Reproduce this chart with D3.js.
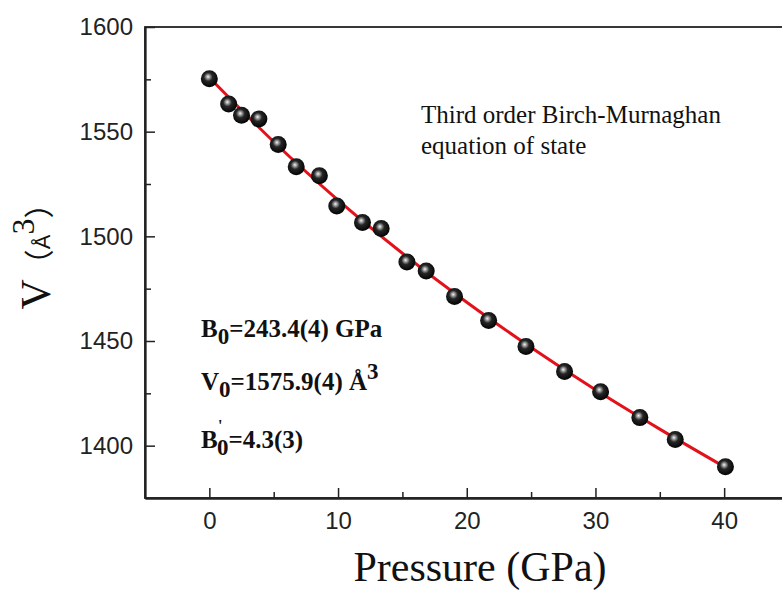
<!DOCTYPE html>
<html>
<head>
<meta charset="utf-8">
<script src="https://cdn.jsdelivr.net/npm/d3@7"></script>
<style>
  body { margin: 0; background: #fff; }
  svg { display: block; }
</style>
</head>
<body>
<svg id="eos" width="782" height="597"></svg>
<script>
const pressure = [0.0, 1.5, 2.5, 3.85, 5.35, 6.75, 8.55, 9.9, 11.9, 13.35,
                  15.35, 16.85, 19.05, 21.7, 24.6, 27.6, 30.4, 33.45, 36.2, 40.1];
const volume = [1575.3, 1563.2, 1557.8, 1556.1, 1543.9, 1533.2, 1528.9, 1514.5, 1506.6, 1503.7,
                1487.7, 1483.4, 1471.3, 1459.8, 1447.4, 1435.4, 1425.8, 1413.4, 1402.9, 1389.9];

// red fit line, read at a few pressures
const fitPressure = [0, 5, 10, 15, 20, 25, 30, 35, 40.1];
const fitVolume = [1575.9, 1545.2, 1517.3, 1491.9, 1468.5, 1446.9, 1426.7, 1407.9, 1389.6];

const xTicks = [0, 10, 20, 30, 40];
const xMinor = [5, 15, 25, 35, 45];
const yTicks = [1400, 1450, 1500, 1550, 1600];
const yMinor = [1425, 1475, 1525, 1575];

const svg = d3.select("#eos");

const x = d3.scaleLinear().domain([-5, 45]).range([145, 788.5]);
const y = d3.scaleLinear().domain([1375, 1600]).range([498, 27]);

// sphere look for the markers
const grad = svg.append("defs").append("radialGradient")
    .attr("id", "ball")
    .attr("cx", "45%").attr("cy", "42%").attr("r", "60%")
    .attr("fx", "42%").attr("fy", "38%");
grad.append("stop").attr("offset", "0%").attr("stop-color", "#f4f4f4");
grad.append("stop").attr("offset", "18%").attr("stop-color", "#9a9a9a");
grad.append("stop").attr("offset", "42%").attr("stop-color", "#262626");
grad.append("stop").attr("offset", "100%").attr("stop-color", "#000");

// frame (right side falls outside the picture, as in the crop)
svg.append("rect")
    .attr("x", x(-5)).attr("y", y(1600))
    .attr("width", x(45) - x(-5)).attr("height", y(1375) - y(1600))
    .attr("fill", "none").attr("stroke", "#222").attr("stroke-width", 1.8);

// x axis
svg.append("g")
    .attr("transform", `translate(0,${y(1375)})`)
    .call(d3.axisBottom(x).tickValues(xTicks).tickSizeInner(-10).tickSizeOuter(0).tickPadding(14));
svg.append("g")
    .attr("transform", `translate(0,${y(1375)})`)
    .call(d3.axisBottom(x).tickValues(xMinor).tickSizeInner(-6).tickSizeOuter(0).tickFormat(""));

// y axis
svg.append("g")
    .attr("transform", `translate(${x(-5)},0)`)
    .call(d3.axisLeft(y).tickValues(yTicks).tickFormat(d3.format("d"))
        .tickSizeInner(-10).tickSizeOuter(0).tickPadding(12));
svg.append("g")
    .attr("transform", `translate(${x(-5)},0)`)
    .call(d3.axisLeft(y).tickValues(yMinor).tickSizeInner(-6).tickSizeOuter(0).tickFormat(""));

svg.selectAll(".domain").attr("stroke", "#222").attr("stroke-width", 1.8);
svg.selectAll(".tick line").attr("stroke", "#222").attr("stroke-width", 1.5);
svg.selectAll(".tick text")
    .attr("font-family", "Liberation Sans, Arial, sans-serif")
    .attr("font-size", "24px")
    .attr("fill", "#222");

// fit curve
const line = d3.line()
    .x((d, i) => x(fitPressure[i]))
    .y(d => y(d))
    .curve(d3.curveMonotoneX);

svg.append("path")
    .datum(fitVolume)
    .attr("d", line)
    .attr("fill", "none")
    .attr("stroke", "#e3111a")
    .attr("stroke-width", 3);

// data points
svg.selectAll("circle.pt")
    .data(volume)
    .enter()
    .append("circle")
    .attr("class", "pt")
    .attr("cx", (d, i) => x(pressure[i]))
    .attr("cy", d => y(d))
    .attr("r", 8.5)
    .attr("fill", "url(#ball)");

// axis titles
const serif = "Liberation Serif, Times New Roman, serif";

svg.append("text")
    .attr("x", 480)
    .attr("y", 581)
    .attr("text-anchor", "middle")
    .attr("font-family", serif)
    .attr("font-size", "42px")
    .attr("fill", "#111")
    .text("Pressure (GPa)");

const yt = svg.append("text")
    .attr("transform", "translate(50,249) rotate(-90)")
    .attr("text-anchor", "middle")
    .attr("font-family", serif)
    .attr("fill", "#111");
yt.append("tspan").attr("font-size", "42px").text("V");
yt.append("tspan").attr("font-size", "30px").attr("font-family", "Noto Sans CJK SC").text("（");
yt.append("tspan").attr("font-size", "22px").attr("font-family", "Liberation Sans, Arial, sans-serif").text("Å");
yt.append("tspan").attr("font-size", "32px").attr("dy", -16).text("3");
yt.append("tspan").attr("font-size", "30px").attr("dy", 16).attr("font-family", "Noto Sans CJK SC").text("）");

// annotation
svg.append("text")
    .attr("x", 421).attr("y", 123)
    .attr("font-family", serif).attr("font-size", "25px").attr("fill", "#111")
    .text("Third order Birch-Murnaghan");
svg.append("text")
    .attr("x", 421).attr("y", 154)
    .attr("font-family", serif).attr("font-size", "25px").attr("fill", "#111")
    .text("equation of state");

function param(yPos, head, rest, opts) {
    const t = svg.append("text")
        .attr("x", 201).attr("y", yPos)
        .attr("font-family", serif).attr("font-weight", "bold")
        .attr("font-size", "25px").attr("fill", "#111");
    t.append("tspan").text(head);
    if (opts && opts.prime) {
        t.append("tspan").attr("x", 218).attr("dy", -17).attr("font-size", "16px").text("'");
        t.append("tspan").attr("x", 217).attr("dy", 24).attr("font-size", "23px").text("0");
    } else {
        t.append("tspan").attr("dy", 7).attr("font-size", "23px").text("0");
    }
    t.append("tspan").attr("dy", -7).text(rest);
    if (opts && opts.sup) {
        t.append("tspan").attr("dy", -11).attr("font-size", "23px").text(opts.sup);
    }
}
param(337, "B", "=243.4(4) GPa");
param(390, "V", "=1575.9(4) Å", { sup: "3" });
param(448, "B", "=4.3(3)", { prime: true });
</script>
</body>
</html>
